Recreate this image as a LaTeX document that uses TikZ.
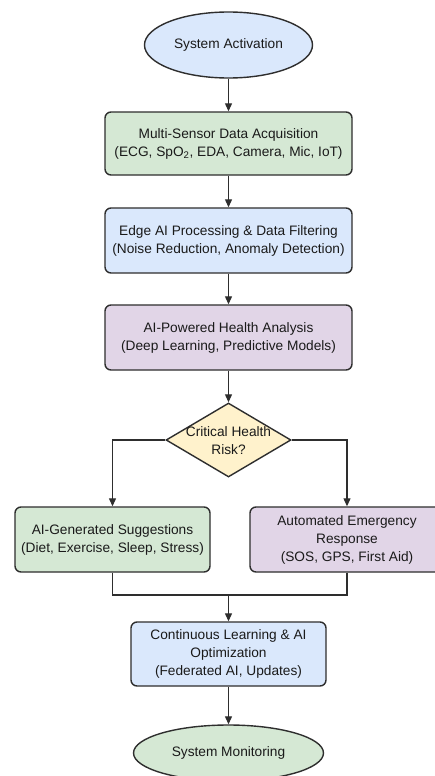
\documentclass[tikz,border=0pt]{standalone}
\usepackage{fontspec}
\setmainfont{Liberation Sans}
\usetikzlibrary{shapes.geometric,arrows.meta}
\definecolor{fgreen}{HTML}{D5E8D4}
\definecolor{fblue}{HTML}{DAE8FC}
\definecolor{fpurple}{HTML}{E1D5E7}
\definecolor{fyellow}{HTML}{FFF2CC}
\definecolor{edge}{HTML}{2E2E2E}
\definecolor{ink}{HTML}{1A1A1A}
\tikzset{
  base/.style={draw=edge, line width=1.4pt, text=ink, align=center,
    font=\fontsize{13.7}{18}\selectfont, inner sep=0pt},
  proc/.style={base, rectangle, rounded corners=6pt},
  term/.style={base, ellipse},
  decide/.style={base, diamond, fill=fyellow},
  arr/.style={draw=edge, line width=1.2pt, -{Triangle[length=8pt,width=7pt]}},
  link/.style={draw=edge, line width=1.2pt},
}
\begin{document}
\begin{tikzpicture}[x=1pt,y=-1pt]
\useasboundingbox[fill=white] (0,0) rectangle (435,776);

% terminals and process steps
\node[term, fill=fblue, minimum width=168pt, minimum height=66pt] (start) at (228.5,45) {System Activation};
\node[proc, fill=fgreen, minimum width=247pt, minimum height=63pt] (acq) at (228.5,143.5)
  {Multi-Sensor Data Acquisition\\(ECG, SpO\textsubscript{2}, EDA, Camera, Mic, IoT)};
\node[proc, fill=fblue, minimum width=247pt, minimum height=65pt] (edge) at (228.5,240.5)
  {Edge AI Processing \& Data Filtering\\(Noise Reduction, Anomaly Detection)};
\node[proc, fill=fpurple, minimum width=247pt, minimum height=65pt] (ana) at (228.5,337.5)
  {AI-Powered Health Analysis\\(Deep Learning, Predictive Models)};

% decision
\node[decide, minimum width=125pt, minimum height=74pt] (dec) at (228.5,440) {};
\node[base, draw=none] (dectext) at (228.5,441) {Critical Health\\Risk?};

% branches
\node[proc, fill=fgreen, minimum width=195pt, minimum height=65pt] (sugg) at (112.5,539.5)
  {AI-Generated Suggestions\\(Diet, Exercise, Sleep, Stress)};
\node[proc, fill=fpurple, minimum width=194pt, minimum height=65pt] (emer) at (347,539.5)
  {Automated Emergency\\Response\\(SOS, GPS, First Aid)};

\coordinate (join) at (228.5,595);

\node[proc, fill=fblue, minimum width=195pt, minimum height=64pt] (learn) at (228.5,654)
  {Continuous Learning \& AI\\Optimization\\(Federated AI, Updates)};
\node[term, fill=fgreen, minimum width=190pt, minimum height=56pt] (mon) at (228.5,753) {System Monitoring};

% connectors
\draw[arr] (start) -- (acq);
\draw[arr] (acq) -- (edge);
\draw[arr] (edge) -- (ana);
\draw[arr] (ana.south) -- (dec.north);
\draw[arr] (dec.west) -| (sugg.north);
\draw[arr] (dec.east) -| (emer.north);
\draw[link] (sugg.south) |- (join);
\draw[link] (emer.south) |- (join);
\draw[arr] (join) -- (learn.north);
\draw[arr] (learn) -- (mon);
\end{tikzpicture}
\end{document}
